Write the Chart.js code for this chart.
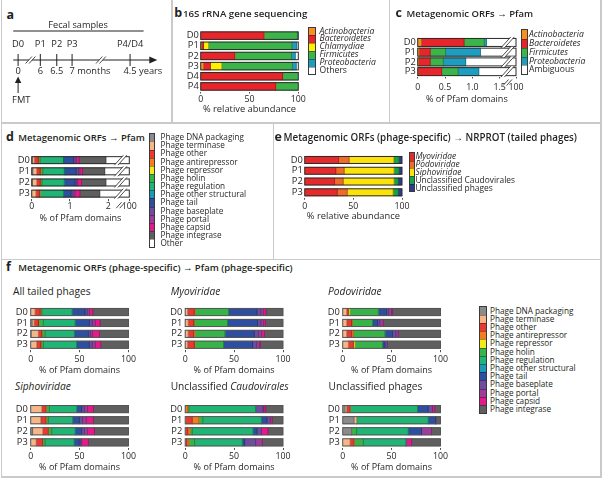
<!DOCTYPE html>
<html><head><meta charset="utf-8">
<script src="https://cdn.jsdelivr.net/npm/chart.js@4.4.1/dist/chart.umd.min.js"></script>
<style>
html,body{margin:0;padding:0;background:#fff;}
body{width:602px;height:478px;position:relative;overflow:hidden;font-family:'Open Sans',sans-serif;color:#231f20;}
.t{position:absolute;white-space:nowrap;}
canvas{position:absolute;}
.ln{position:absolute;background:#cacaca;}
</style></head><body>
<script>
// ---------------- DATA ----------------
// a: timeline
const timeLabels = ['D0','P1','P2','P3','P4/D4'];
const timeNumbers = ['0','6','6.5','7','4.5'];
const timeUnits = ['','','',' months',' years'];
const timeAxisPos = [0, 1, 1.74, 2.43, 5.04];   // schematic (broken) timeline positions

// b: 16S rRNA gene sequencing (% relative abundance)
const samplesB = ['D0','P1','P2','P3','D4','P4'];
const phylaB = ['Actinobacteria','Bacteroidetes','Chlamydiae','Firmicutes','Proteobacteria','Others'];
const actinoB = [0, 1, 0, 3, 0, 0];
const bacteroB = [65, 2, 35, 7, 84, 77];
const chlamB = [0, 5, 0, 11.5, 0, 0];
const firmB = [34, 85.5, 58, 72.5, 15.5, 22.5];
const proteoB = [0.5, 5, 4, 4, 0, 0];
const othersB = [0.5, 1.5, 3, 2, 0.5, 0.5];

// c: Metagenomic ORFs -> Pfam (% of Pfam domains)
const samplesC = ['D0','P1','P2','P3'];
const phylaC = ['Actinobacteria','Bacteroidetes','Firmicutes','Proteobacteria','Ambiguous'];
const actinoC = [0.07, 0.03, 0.02, 0.01];
const bacteroC = [0.78, 0.20, 0.21, 0.43];
const firmC = [0.37, 0.28, 0.24, 0.30];
const proteoC = [0.04, 0.64, 0.41, 0.38];
const ambigC = [98.74, 98.85, 99.12, 98.88];
const ticksC = [0, 0.5, 1.0, 1.5];

// d: Metagenomic ORFs -> Pfam, phage categories (% of Pfam domains)
const samplesD = ['D0','P1','P2','P3'];
const phageCats = ['Phage DNA packaging','Phage terminase','Phage other','Phage antirepressor','Phage repressor','Phage holin','Phage regulation','Phage other structural','Phage tail','Phage baseplate','Phage portal','Phage capsid','Phage integrase'];
const dnaPackD = [0.02, 0.03, 0.02, 0];
const terminaseD = [0.05, 0.10, 0.11, 0.11];
const otherPhageD = [0.10, 0.09, 0.09, 0.09];
const antirepD = [0.02, 0.02, 0.02, 0.02];
const repressorD = [0, 0, 0, 0];
const holinD = [0.03, 0.05, 0.03, 0];
const regulationD = [0.61, 0.56, 0.58, 0.61];
const otherStructD = [0.01, 0.02, 0, 0];
const tailD = [0.25, 0.29, 0.28, 0.20];
const baseplateD = [0.04, 0.06, 0.04, 0.05];
const portalD = [0.04, 0.04, 0.03, 0.05];
const capsidD = [0.07, 0.07, 0.10, 0.13];
const integraseD = [0.70, 0.58, 0.64, 0.52];
const otherD = [98.06, 98.09, 98.06, 98.22];
const ticksD = [0, 1, 2];

// e: phage-specific ORFs -> NRPROT (% relative abundance)
const samplesE = ['D0','P1','P2','P3'];
const familiesE = ['Myoviridae','Podoviridae','Siphoviridae','Unclassified Caudovirales','Unclassified phages'];
const myoE = [34.8, 32, 30.7, 33.4];
const podoE = [10.9, 8.6, 8.9, 10.3];
const siphoE = [45.8, 51.2, 52.2, 47.1];
const unclCaudE = [5.5, 5.2, 4.4, 5.4];
const unclPhageE = [3.0, 3.0, 3.8, 3.8];

// f: phage-specific ORFs -> phage-specific Pfam; one row per sample (D0,P1,P2,P3), values in phageCats order
const samplesF = ['D0','P1','P2','P3'];
const fAllTailed = [
  [0, 4.4, 5.2, 0.9, 0, 1.0, 30.8, 0, 13.3, 2.4, 2.0, 3.5, 36.5],
  [1.5, 2, 4.3, 0.5, 0, 4.7, 32.4, 0, 14.6, 3, 3, 5, 29],
  [0.5, 7.3, 3.5, 0.5, 0, 2.9, 30, 0, 14.3, 2, 2, 7.3, 29.7],
  [0, 6.1, 4.1, 0.8, 0, 2, 34, 0, 13, 3, 3, 5.7, 28.3]];
const fMyo = [
  [0, 2.4, 6.8, 1.0, 0, 34.2, 0, 0, 29, 4.1, 2.5, 2.6, 17.4],
  [0, 3, 5.5, 1, 0, 33.8, 0, 0, 30.7, 3.5, 2.5, 2, 18],
  [0, 3, 5.5, 1.5, 0, 30.6, 0, 0, 30, 4.4, 3, 3, 19],
  [0, 2.4, 6.8, 0.8, 0, 29.2, 0, 0, 29.8, 4, 2.8, 1.2, 23]];
const fPodo = [
  [0, 4, 1.8, 0, 1.7, 28.9, 0, 0, 8.5, 2.1, 3, 0.8, 49.2],
  [0, 4, 5.2, 0.6, 0, 20.8, 0, 0, 5.1, 2.3, 3.5, 0, 58.5],
  [0, 4, 5.2, 1.7, 0, 32.3, 0, 0, 7.8, 3.4, 2.4, 0, 43.2],
  [0, 5.8, 5.1, 0, 1.7, 28.2, 0, 0, 2.4, 2.4, 0, 0, 54.4]];
const fSipho = [
  [0, 11.3, 4.4, 0, 0, 3.4, 28, 0, 5.1, 2.8, 3, 6.2, 35.8],
  [0, 10.2, 5.5, 0, 0, 2.3, 25, 0, 6.8, 3.2, 3.7, 7.5, 35.8],
  [2, 10.3, 5.7, 0, 0, 3.5, 23.9, 0, 6.8, 2.8, 3, 7.2, 34.8],
  [0, 5.5, 6.8, 0, 0, 2.4, 29.7, 0, 5.1, 1.5, 1.2, 6.8, 41]];
const fUnclCaud = [
  [0, 0, 0, 2.7, 0, 1.1, 68.2, 0, 0, 7.5, 1, 1.8, 17.7],
  [0, 0, 7.2, 6.8, 0, 4, 59.8, 0, 5.8, 3.4, 0, 2, 11],
  [0, 0, 2.7, 2.4, 0, 2.1, 62.1, 0, 4.1, 4.4, 0, 6.8, 15.4],
  [0, 0, 1.7, 2.1, 0, 5.8, 48.8, 0, 2.4, 11.2, 6.8, 0, 21.2]];
const fUnclPhage = [
  [2.4, 1.6, 3.5, 0, 0, 0, 69, 0, 10.9, 4.4, 0, 2.4, 5.8],
  [11.6, 2.7, 0, 0, 0, 0, 73.1, 0, 7.8, 0, 0, 0, 4.8],
  [9.2, 0, 0, 0, 0, 5.1, 52.7, 0, 13.6, 0, 10.2, 0, 9.2],
  [0, 7.5, 4.1, 0, 0, 9.5, 43.5, 0, 0, 0, 0, 5.8, 29.6]];
const ticksPct = [0, 50, 100];

// ---------------- STYLE ----------------
const FONT = "'Open Sans', sans-serif";
const INK = '#231f20';
const phylaColors = {Actinobacteria:'#f7901e', Bacteroidetes:'#e7252a', Chlamydiae:'#fdf000', Firmicutes:'#3bb44a', Proteobacteria:'#1d9dc0', Others:'#ffffff', Ambiguous:'#ffffff'};
const phageColors = ['#8b8b8b','#f6b788','#e63a33','#f37b21','#f2ea1c','#38b34a','#20b574','#1a9ab7','#2e4e9f','#6f4c9e','#9c3e99','#e4198b','#5f5f5f'];
const familyColors = ['#e52a2c','#f06a2a','#fce20b','#1ba04a','#2c3c92'];

// ---------------- HELPERS ----------------
function txt(html, x, base, size, o = {}) {
  const d = document.createElement('div');
  d.className = 't';
  d.innerHTML = html;
  d.style.fontSize = size + 'px';
  d.style.lineHeight = (1.2 * size) + 'px';
  d.style.left = x + 'px';
  d.style.top = (base - 0.988 * size) + 'px';
  if (o.weight) d.style.fontWeight = o.weight;
  if (o.italic) d.style.fontStyle = 'italic';
  document.body.appendChild(d);
}
function line(x, y, w, h) {
  const d = document.createElement('div');
  d.className = 'ln';
  d.style.cssText += `left:${x}px;top:${y}px;width:${w}px;height:${h}px;`;
  document.body.appendChild(d);
}
function legend(o) {
  const n = o.names.length;
  o.colors.forEach((c, i) => {
    const d = document.createElement('div');
    d.style.cssText = `position:absolute;left:${o.x}px;top:${o.cy0 + i * o.step - o.step / 2}px;width:${o.boxW}px;height:${o.step}px;background:${c};` +
      (i > 0 ? 'border-top:0.5px solid rgba(0,0,0,0.35);box-sizing:border-box;' : '');
    document.body.appendChild(d);
    txt(o.names[i], o.textX, o.cy0 + i * o.step + o.size * 0.36, o.size, {italic: o.italic && o.italic[i]});
  });
  const b = document.createElement('div');
  b.style.cssText = `position:absolute;left:${o.x - 0.5}px;top:${o.cy0 - o.step / 2 - 0.5}px;width:${o.boxW + 1}px;height:${o.step * n + 1}px;border:1px solid #3a3a3a;box-sizing:border-box;`;
  document.body.appendChild(b);
}

function drawBreak(ctx, xb, top, bot) {
  const s = (bot - top) * 0.45;
  ctx.save();
  ctx.fillStyle = '#fff';
  ctx.beginPath();
  ctx.moveTo(xb - 2 - s, bot); ctx.lineTo(xb - 2 + s, top); ctx.lineTo(xb + 1.5 + s, top); ctx.lineTo(xb + 1.5 - s, bot); ctx.closePath();
  ctx.fill();
  ctx.strokeStyle = INK; ctx.lineWidth = 0.8;
  ctx.beginPath();
  ctx.moveTo(xb - 2 - s, bot); ctx.lineTo(xb - 2 + s, top);
  ctx.moveTo(xb + 1.5 - s, bot); ctx.lineTo(xb + 1.5 + s, top);
  ctx.stroke();
  ctx.restore();
}
const barDeco = {
  id: 'barDeco',
  afterDatasetsDraw(chart, args, o) {
    const ctx = chart.ctx, xs = chart.scales.x, area = chart.chartArea;
    const metas = chart.getSortedVisibleDatasetMetas();
    const n = chart.data.labels.length;
    ctx.save();
    for (let i = 0; i < n; i++) {
      const el0 = metas[0].data[i];
      const h = el0.height, yc = el0.y;
      const x0 = xs.getPixelForValue(0);
      let right = x0;
      ctx.strokeStyle = o.sepColor; ctx.lineWidth = 0.6;
      metas.forEach((m, k) => {
        const v = chart.data.datasets[m.index].data[i];
        if (!v) return;
        const xr = Math.min(m.data[i].x, area.right);
        if (xr < area.right - 0.6 && k < metas.length - 1) {
          ctx.beginPath(); ctx.moveTo(xr, yc - h / 2); ctx.lineTo(xr, yc + h / 2); ctx.stroke();
        }
        right = Math.max(right, xr);
      });
      ctx.strokeStyle = o.color; ctx.lineWidth = 1;
      ctx.strokeRect(x0, yc - h / 2, right - x0, h);
      if (o.breakAt != null) {
        drawBreak(ctx, xs.getPixelForValue(o.breakAt), yc - h / 2 - 1.5, yc + h / 2 + 1.5);
      }
    }
    if (o.breakAt != null) {
      drawBreak(ctx, xs.getPixelForValue(o.breakAt), area.bottom + 3, area.bottom + 9);
    }
    ctx.restore();
  }
};

function hbar(o) {
  const [x0, y0, x1, y1] = o.area;
  const left = Math.floor(x0 - 32), top = Math.floor(y0 - 2);
  const W = Math.ceil(x1 - left + 14), H = Math.ceil(o.titleY + 8 - top);
  const yW = x0 - left, padR = W - (x1 - left), padT = y0 - top;
  const xH = H - padT - (y1 - y0);
  const tickSize = o.tickSize || 8.8, titleSize = o.titleSize || 9.2, tickLen = 2;
  const tickPad = o.tickY - y1 - tickLen - tickSize * 0.6;
  const titlePadB = (top + H) - o.titleY - titleSize * 0.6;
  const cv = document.createElement('canvas');
  cv.width = W; cv.height = H;
  cv.style.left = left + 'px'; cv.style.top = top + 'px';
  document.body.appendChild(cv);
  new Chart(cv, {
    type: 'bar',
    data: {
      labels: o.labels,
      datasets: o.series.map((d, k) => ({label: o.names[k], data: d, backgroundColor: o.colors[k], borderWidth: 0, barThickness: o.barT, clip: 0}))
    },
    options: {
      responsive: false, animation: false, indexAxis: 'y', devicePixelRatio: 1,
      layout: {padding: {left: 0, right: padR, top: padT, bottom: 0}},
      plugins: {legend: {display: false}, tooltip: {enabled: false},
        barDeco: {color: o.outline || '#2a2a2a', sepColor: o.sep || 'rgba(0,0,0,0.45)', breakAt: o.breakAt}},
      scales: {
        x: {stacked: true, min: 0, max: o.max,
          afterBuildTicks: s => { s.ticks = o.ticks.map(v => ({value: v})); },
          afterFit: s => { s.height = xH; },
          grid: {drawOnChartArea: false, drawTicks: true, tickLength: tickLen, color: INK, lineWidth: 0.8},
          border: {display: false},
          ticks: {padding: tickPad, font: {family: FONT, size: tickSize}, color: INK, maxRotation: 0, autoSkip: false, callback: v => o.fmt ? o.fmt(v) : String(v)},
          title: {display: true, text: o.xTitle, padding: {top: 0, bottom: titlePadB}, font: {family: FONT, size: titleSize}, color: INK}},
        y: {stacked: true, afterFit: s => { s.width = yW; },
          grid: {display: false, drawTicks: false}, border: {display: false},
          ticks: {autoSkip: false, padding: o.labPad || 2, font: {family: FONT, size: o.labSize || 9.3}, color: INK}}
      }
    },
    plugins: [barDeco]
  });
}
const transpose = rows => rows[0].map((_, k) => rows.map(r => r[k]));

// ---------------- PANEL FRAMES ----------------
line(0.5, 0, 1.5, 477);
line(600, 0, 1.5, 477);
line(0.5, 476, 601, 1.5);
line(0.5, 122, 601, 1.5);
line(0.5, 258.5, 601, 1.5);
line(171, 0, 1.5, 122);
line(388.8, 0, 1.5, 122);
line(272.8, 122, 1.5, 137);

// ---------------- PANEL A ----------------
txt('a', 6.5, 19, 12.5, {weight: 700});
(function () {
  const cv = document.createElement('canvas');
  cv.width = 170; cv.height = 120; cv.style.left = '0px'; cv.style.top = '0px';
  document.body.appendChild(cv);
  const timeline = {
    id: 'timeline',
    beforeDatasetsDraw(chart) {
      const {ctx, scales: {x, y}} = chart;
      const px = v => x.getPixelForValue(v), y0 = y.getPixelForValue(0);
      ctx.save();
      ctx.strokeStyle = INK; ctx.fillStyle = INK; ctx.lineWidth = 1;
      const xs = px(-0.22), xe = px(5.95);
      ctx.beginPath(); ctx.moveTo(xs, y0); ctx.lineTo(xe, y0); ctx.stroke();
      ctx.beginPath(); ctx.moveTo(xe + 7, y0); ctx.lineTo(xe - 1, y0 - 3.5); ctx.lineTo(xe - 1, y0 + 3.5); ctx.closePath(); ctx.fill();
      [0.57, 3.74].forEach(b => drawBreak(ctx, px(b), y0 - 3.5, y0 + 3.5));
      ctx.strokeStyle = INK; ctx.fillStyle = INK; ctx.lineWidth = 1;
      const fy = 31;
      ctx.beginPath(); ctx.moveTo(px(-0.22), fy); ctx.lineTo(px(5.65), fy); ctx.stroke();
      ctx.font = `9.2px ${FONT}`; ctx.textBaseline = 'alphabetic';
      ctx.textAlign = 'center';
      ctx.fillText('Fecal samples', px(2.7), 27.5);
      ctx.font = `9.3px ${FONT}`;
      timeLabels.forEach((l, i) => { ctx.textAlign = 'center'; ctx.fillText(l, px(timeAxisPos[i]), 47); });
      timeNumbers.forEach((nm, i) => {
        const xc = px(timeAxisPos[i]);
        const w = ctx.measureText(nm).width;
        ctx.textAlign = 'left';
        ctx.fillText(nm + timeUnits[i], xc - w / 2, 74);
      });
      const ax = px(0);
      ctx.beginPath(); ctx.moveTo(ax, 93); ctx.lineTo(ax, 81); ctx.stroke();
      ctx.beginPath(); ctx.moveTo(ax, 76.5); ctx.lineTo(ax - 3.2, 83); ctx.lineTo(ax + 3.2, 83); ctx.closePath(); ctx.fill();
      ctx.textAlign = 'left';
      ctx.fillText('FMT', ax - 6, 102.5);
      ctx.restore();
    }
  };
  new Chart(cv, {
    type: 'scatter',
    data: {datasets: [{data: timeAxisPos.map(v => ({x: v, y: 0})), pointStyle: 'line', rotation: 90, radius: 6, borderColor: INK, borderWidth: 1, showLine: false}]},
    options: {
      responsive: false, animation: false, devicePixelRatio: 1,
      layout: {padding: {left: 1.5, right: 7.5, top: 0, bottom: 6}},
      plugins: {legend: {display: false}, tooltip: {enabled: false}},
      scales: {x: {type: 'linear', min: -0.5, max: 6.5, display: false}, y: {min: -1, max: 1, display: false}}
    },
    plugins: [timeline]
  });
})();

// ---------------- PANEL B ----------------
txt('b', 174.3, 17.5, 12.5, {weight: 700});
txt('16S rRNA gene sequencing', 183, 17.5, 9.7, {weight: 600});
hbar({area: [200.7, 25.5, 298.3, 91.5], labels: samplesB,
  series: [actinoB, bacteroB, chlamB, firmB, proteoB, othersB], names: phylaB, colors: phylaB.map(p => phylaColors[p]),
  max: 100, ticks: ticksPct, tickY: 99, titleY: 109, xTitle: '% relative abundance', titleSize: 9.3, barT: 7.5});
legend({x: 308.5, cy0: 31, step: 7.9, boxW: 6.5, textX: 319.5, size: 8.6, names: phylaB, colors: phylaB.map(p => phylaColors[p]), italic: [1, 1, 1, 1, 1, 0]});

// ---------------- PANEL C ----------------
txt('c', 395.5, 17.5, 12.5, {weight: 700});
txt('Metagenomic ORFs → Pfam', 406.5, 17.5, 9.5, {weight: 600});
hbar({area: [417.7, 32.9, 516, 76.5], labels: samplesC,
  series: [actinoC, bacteroC, firmC, proteoC, ambigC], names: phylaC, colors: phylaC.map(p => phylaColors[p]),
  max: 1.8, ticks: ticksC.concat([1.8]), fmt: v => v === 1.8 ? '100' : (v === 0 ? '0' : v.toFixed(1)), breakAt: 1.65,
  tickY: 87.3, titleY: 99.3, xTitle: '% of Pfam domains', titleSize: 9.1, barT: 8});
legend({x: 521.7, cy0: 34.3, step: 8.9, boxW: 5.8, textX: 529, size: 8.6, names: phylaC, colors: phylaC.map(p => phylaColors[p]), italic: [1, 1, 1, 1, 0]});

// ---------------- PANEL D ----------------
txt('d', 6, 141.7, 12.5, {weight: 700});
txt('Metagenomic ORFs → Pfam', 18.3, 141.7, 9.5, {weight: 600});
hbar({area: [31.7, 149.8, 129.3, 199.2], labels: samplesD,
  series: [dnaPackD, terminaseD, otherPhageD, antirepD, repressorD, holinD, regulationD, otherStructD, tailD, baseplateD, portalD, capsidD, integraseD, otherD],
  names: phageCats.concat(['Other']), colors: phageColors.concat(['#ffffff']),
  max: 2.55, ticks: ticksD.concat([2.55]), fmt: v => v === 2.55 ? '100' : String(v), breakAt: 2.33,
  tickY: 206.7, titleY: 218.3, xTitle: '% of Pfam domains', titleSize: 9.1, barT: 7});
legend({x: 149.3, cy0: 137.3, step: 8.15, boxW: 5, textX: 160.5, size: 8.2, names: phageCats.concat(['Other']), colors: phageColors.concat(['#ffffff'])});

// ---------------- PANEL E ----------------
txt('e', 274.5, 141.7, 12.5, {weight: 700});
txt('Metagenomic ORFs (phage-specific) → NRPROT (tailed phages)', 283.5, 141.7, 9.8, {weight: 600});
hbar({area: [304.7, 149.7, 402, 197.7], labels: samplesE,
  series: [myoE, podoE, siphoE, unclCaudE, unclPhageE], names: familiesE, colors: familyColors,
  max: 100, ticks: ticksPct, tickY: 206, titleY: 216.7, xTitle: '% relative abundance', titleSize: 9.3, barT: 7});
legend({x: 409.3, cy0: 156.7, step: 7.8, boxW: 5, textX: 415.5, size: 8.4, names: familiesE, colors: familyColors, italic: [1, 1, 1, 0, 0]});

// ---------------- PANEL F ----------------
txt('f', 6, 271.7, 12.5, {weight: 700});
txt('Metagenomic ORFs (phage-specific) → Pfam (phage-specific)', 18.3, 271.7, 9.5, {weight: 600});
const fPanels = [
  {rows: fAllTailed, title: 'All tailed phages', tx: 13, x0: 30.7, row: 0},
  {rows: fMyo, title: '<i>Myoviridae</i>', tx: 170.7, x0: 185.2, row: 0},
  {rows: fPodo, title: '<i>Podoviridae</i>', tx: 328, x0: 342.7, row: 0},
  {rows: fSipho, title: '<i>Siphoviridae</i>', tx: 15, x0: 30.7, row: 1},
  {rows: fUnclCaud, title: 'Unclassified <i>Caudovirales</i>', tx: 170.7, x0: 185.2, row: 1},
  {rows: fUnclPhage, title: 'Unclassified phages', tx: 328.5, x0: 342.7, row: 1}
];
const fRowGeom = [{y0: 300.5, y1: 350.2, tickY: 359, titleY: 370, base: 295},
                  {y0: 397.7, y1: 447.9, tickY: 456, titleY: 467.3, base: 390.5}];
fPanels.forEach(p => {
  const g = fRowGeom[p.row];
  txt(p.title, p.tx, g.base, 10.2);
  hbar({area: [p.x0, g.y0, p.x0 + 97.8, g.y1], labels: samplesF, series: transpose(p.rows), names: phageCats, colors: phageColors,
    max: 100, ticks: ticksPct, tickY: g.tickY, titleY: g.titleY, xTitle: '% of Pfam domains', titleSize: 9, barT: 7.2, outline: '#555', labPad: 3});
});
legend({x: 479, cy0: 310.7, step: 8.2, boxW: 7.5, textX: 490, size: 8.2, names: phageCats, colors: phageColors});
</script>
</body></html>
